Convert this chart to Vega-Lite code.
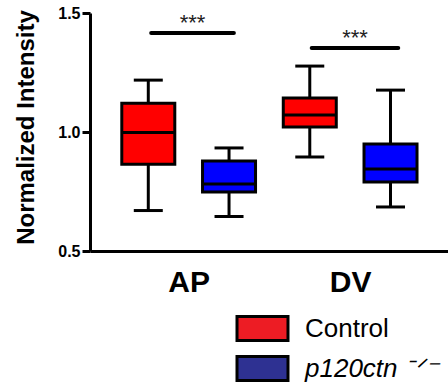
{
  "$schema": "https://vega.github.io/schema/vega-lite/v6.json",
  "width": 358,
  "height": 238,
  "autosize": {"type": "none"},
  "padding": {"left": 90, "top": 13, "right": 0, "bottom": 138},
  "background": "white",
  "config": {"view": {"stroke": null}, "font": "Liberation Sans"},
  "resolve": {"scale": {"fill": "independent"}, "legend": {"fill": "independent"}},
  "datasets": {
    "boxes": [
      {"region": "AP", "genotype": "Control", "pos": 1, "min": 0.67, "q1": 0.865, "median": 0.998, "q3": 1.121, "max": 1.218},
      {"region": "AP", "genotype": "p120ctn ⁻ᐟ⁻", "pos": 2, "min": 0.645, "q1": 0.748, "median": 0.782, "q3": 0.878, "max": 0.933},
      {"region": "DV", "genotype": "Control", "pos": 3, "min": 0.895, "q1": 1.021, "median": 1.071, "q3": 1.143, "max": 1.277},
      {"region": "DV", "genotype": "p120ctn ⁻ᐟ⁻", "pos": 4, "min": 0.685, "q1": 0.79, "median": 0.845, "q3": 0.95, "max": 1.176}
    ],
    "sig": [
      {"region": "AP", "start": 1.036, "end": 2.06, "mid": 1.548, "y": 1.416, "label": "***"},
      {"region": "DV", "start": 3.024, "end": 4.096, "mid": 3.56, "y": 1.353, "label": "***"}
    ]
  },
  "layer": [
    {
      "data": {"name": "boxes"},
      "mark": {"type": "rule", "strokeWidth": 3, "color": "black"},
      "encoding": {
        "x": {"field": "pos", "type": "quantitative", "scale": {"domain": [0.34, 4.65], "nice": false, "zero": false},
          "axis": {"title": null, "values": [1.5, 3.5], "labelExpr": "datum.value < 2.5 ? 'AP' : 'DV'", "ticks": false, "grid": false,
            "labelFont": "Liberation Sans", "labelFontWeight": "bold", "labelFontSize": 30, "labelColor": "black", "labelPadding": 16, "labelDx": 7,
            "domainWidth": 3, "domainColor": "black", "labelFlush": false}},
        "y": {"field": "min", "type": "quantitative", "scale": {"domain": [0.5, 1.5], "nice": false, "zero": false},
          "axis": {"title": "Normalized Intensity", "values": [0.5, 1.0, 1.5], "format": ".1f", "grid": false,
            "labelFont": "Liberation Sans", "labelFontWeight": "bold", "labelFontSize": 16, "labelColor": "black", "labelPadding": 2,
            "tickSize": 8, "tickWidth": 3, "tickColor": "black", "domainWidth": 3, "domainColor": "black",
            "titleFont": "Liberation Sans", "titleFontWeight": "bold", "titleFontSize": 24, "titleColor": "black",
            "titleAngle": -90, "titleX": -57, "titleY": 114, "titleAlign": "center", "titleBaseline": "alphabetic", "labelFlush": false}},
        "y2": {"field": "max"}
      }
    },
    {
      "data": {"name": "boxes"},
      "mark": {"type": "bar", "width": 53, "stroke": "black", "strokeWidth": 3, "opacity": 0},
      "encoding": {
        "x": {"field": "pos", "type": "quantitative"},
        "y": {"field": "q1", "type": "quantitative"},
        "y2": {"field": "q3"},
        "fill": {"field": "genotype", "type": "nominal",
          "scale": {"domain": ["Control", "p120ctn ⁻ᐟ⁻"], "range": ["#ED1C24", "#2E3192"]},
          "legend": {"title": null, "orient": "none", "legendX": 158, "legendY": 301,
            "symbolType": "M-2,-0.94H2V0.94H-2Z", "symbolSize": 650, "symbolStrokeWidth": 3, "symbolStrokeColor": "black", "symbolOpacity": 1,
            "labelFont": "Liberation Sans", "labelFontSize": 26, "labelColor": "black", "labelOffset": 28, "rowPadding": 3,
            "encode": {
              "labels": {"update": {"fontStyle": {"signal": "datum.label == 'Control' ? 'normal' : 'italic'"}}}
            }}}
      }
    },
    {
      "data": {"name": "boxes"},
      "mark": {"type": "bar", "width": 53, "stroke": "black", "strokeWidth": 3},
      "encoding": {
        "x": {"field": "pos", "type": "quantitative"},
        "y": {"field": "q1", "type": "quantitative"},
        "y2": {"field": "q3"},
        "fill": {"field": "genotype", "type": "nominal",
          "scale": {"domain": ["Control", "p120ctn ⁻ᐟ⁻"], "range": ["#FF0000", "#0000FF"]},
          "legend": null}
      }
    },
    {
      "data": {"name": "boxes"},
      "mark": {"type": "tick", "orient": "horizontal", "size": 53, "thickness": 3, "color": "black", "opacity": 1},
      "encoding": {
        "x": {"field": "pos", "type": "quantitative"},
        "y": {"field": "median", "type": "quantitative"}
      }
    },
    {
      "data": {"name": "boxes"},
      "mark": {"type": "tick", "orient": "horizontal", "size": 29, "thickness": 3, "color": "black", "opacity": 1},
      "encoding": {
        "x": {"field": "pos", "type": "quantitative"},
        "y": {"field": "min", "type": "quantitative"}
      }
    },
    {
      "data": {"name": "boxes"},
      "mark": {"type": "tick", "orient": "horizontal", "size": 29, "thickness": 3, "color": "black", "opacity": 1},
      "encoding": {
        "x": {"field": "pos", "type": "quantitative"},
        "y": {"field": "max", "type": "quantitative"}
      }
    },
    {
      "data": {"name": "sig"},
      "mark": {"type": "rule", "strokeWidth": 4, "color": "black", "strokeCap": "round"},
      "encoding": {
        "x": {"field": "start", "type": "quantitative"},
        "x2": {"field": "end"},
        "y": {"field": "y", "type": "quantitative"}
      }
    },
    {
      "data": {"name": "sig"},
      "mark": {"type": "text", "font": "Liberation Sans", "fontSize": 22, "color": "#222222", "baseline": "alphabetic", "align": "center", "dy": -3},
      "encoding": {
        "x": {"field": "mid", "type": "quantitative"},
        "y": {"field": "y", "type": "quantitative"},
        "text": {"field": "label"}
      }
    }
  ]
}
